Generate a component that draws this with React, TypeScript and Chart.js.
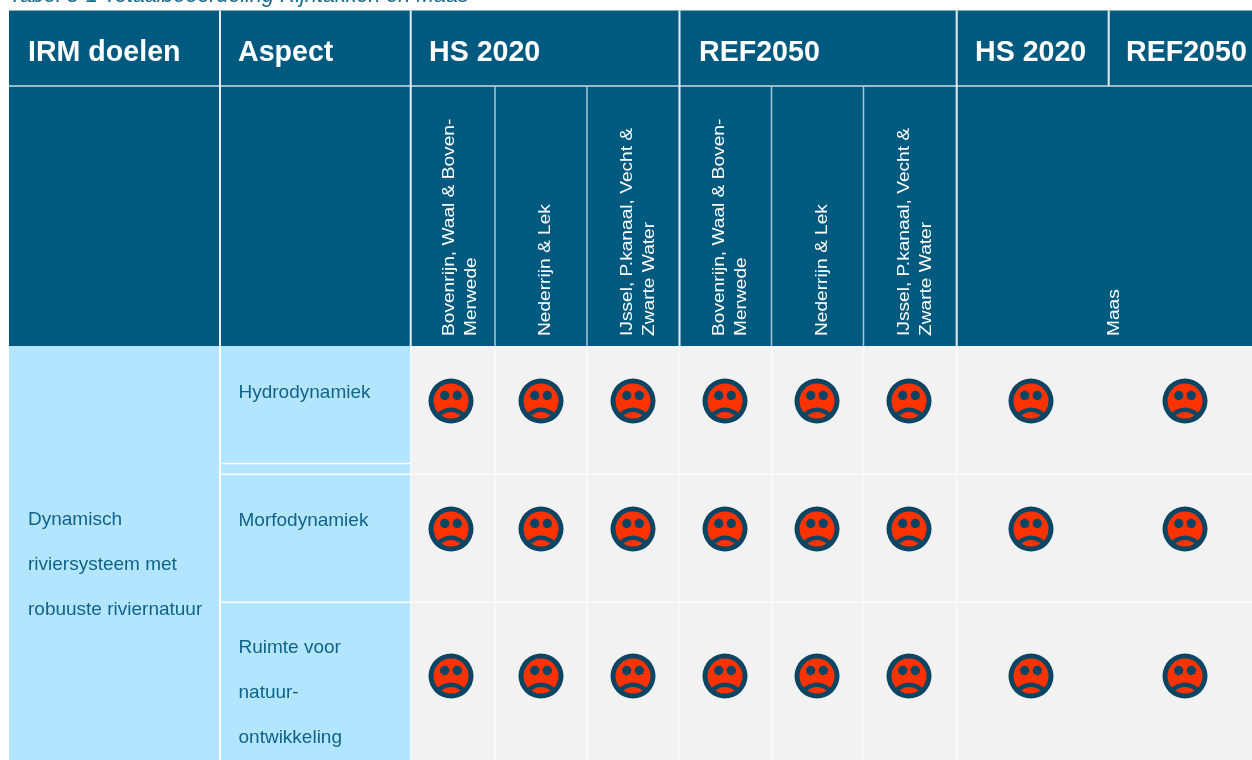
import React, { useEffect, useRef } from "react";
import { Chart, registerables } from "chart.js";

Chart.register(...registerables);

// ---- content ----
const title = "Tabel 5-1 Totaalbeoordeling Rijntakken en Maas";
const headerLabels = ["IRM doelen", "Aspect", "HS 2020", "REF2050", "HS 2020", "REF2050"];
const reachLabels = [
  ["Bovenrijn, Waal & Boven-", "Merwede"],
  ["Nederrijn & Lek"],
  ["IJssel, P.kanaal, Vecht &", "Zwarte Water"],
  ["Bovenrijn, Waal & Boven-", "Merwede"],
  ["Nederrijn & Lek"],
  ["IJssel, P.kanaal, Vecht &", "Zwarte Water"],
  ["Maas"],
];
const goalLines = ["Dynamisch", "riviersysteem met", "robuuste riviernatuur"];
const aspects = [["Hydrodynamiek"], ["Morfodynamiek"], ["Ruimte voor", "natuur-", "ontwikkeling"]];
// one rating per aspect and assessment column: -1 is the sad face
const hydrodynamiek = [-1, -1, -1, -1, -1, -1, -1, -1];
const morfodynamiek = [-1, -1, -1, -1, -1, -1, -1, -1];
const ruimteVoorNatuur = [-1, -1, -1, -1, -1, -1, -1, -1];

// ---- table layout (in scale units, the scales run 1:1 with the page) ----
const colEdges = [9, 220, 410.7, 495, 587, 679.5, 771.5, 863.5, 956.7, 1108.7, 1252];
const rowEdges = [10.5, 86, 346, 474.3, 602.3, 760];
const faceCols = [451, 541, 633, 725, 817, 909, 1031, 1185];
const faceRows = [401, 529, 676];

const NAVY = "#005a80";
const SKY = "#b3e5ff";
const GREY = "#f2f2f2";
const FONT = '"Liberation Sans", Arial, sans-serif';

function makeFace(): HTMLCanvasElement {
  const size = 46;
  const c = document.createElement("canvas");
  c.width = size;
  c.height = size;
  const g = c.getContext("2d")!;
  const m = size / 2;
  g.fillStyle = "#0a4664";
  g.beginPath();
  g.arc(m, m, 22.5, 0, Math.PI * 2);
  g.fill();
  g.fillStyle = "#ff3300";
  g.beginPath();
  g.arc(m, m, 17.5, 0, Math.PI * 2);
  g.fill();
  g.fillStyle = "#0a4664";
  g.beginPath();
  g.arc(m - 6.3, m - 5.5, 4.7, 0, Math.PI * 2);
  g.arc(m + 6.3, m - 5.5, 4.7, 0, Math.PI * 2);
  g.fill();
  g.strokeStyle = "#0a4664";
  g.lineWidth = 4.5;
  g.lineCap = "butt";
  g.beginPath();
  g.moveTo(m - 14, m + 15);
  g.quadraticCurveTo(m, m + 2.5, m + 14, m + 15);
  g.stroke();
  return c;
}

const tablePlugin = {
  id: "table",
  beforeDatasetsDraw(chart: any) {
    const { ctx, scales } = chart;
    const X = (v: number) => scales.x.getPixelForValue(v);
    const Y = (v: number) => scales.y.getPixelForValue(v);
    const rect = (x0: number, x1: number, y0: number, y1: number, fill: string) => {
      ctx.fillStyle = fill;
      ctx.fillRect(X(x0), Y(y0), X(x1) - X(x0), Y(y1) - Y(y0));
    };
    const vline = (x: number, y0: number, y1: number, col: string, w = 1.5) => {
      ctx.fillStyle = col;
      ctx.fillRect(X(x) - w / 2, Y(y0), w, Y(y1) - Y(y0));
    };
    const hline = (x0: number, x1: number, y: number, col: string, w = 1.5) => {
      ctx.fillStyle = col;
      ctx.fillRect(X(x0), Y(y) - w / 2, X(x1) - X(x0), w);
    };
    const [h0, h1, h2, r1, r2, end] = rowEdges;
    const left = colEdges[0];
    const right = colEdges[colEdges.length - 1];
    ctx.save();
    // header block and body blocks
    rect(left, right, h0, h2, NAVY);
    rect(left, colEdges[2], h2, end, SKY);
    rect(colEdges[2], right, h2, end, GREY);

    // header rules
    hline(left, right, h1, "#c9dbe4", 1.5);
    [1, 2, 5, 8].forEach((i) => vline(colEdges[i], h0, h2, "#e6eef2", 2));
    vline(colEdges[9], h0, h1, "#e6eef2", 2);
    [3, 4, 6, 7].forEach((i) => vline(colEdges[i], h1, h2, "#a8c6d5", 1.5));

    // body rules
    vline(colEdges[1], h2, end, "#ffffff", 2);
    vline(colEdges[2], h2, end, "#f4fbff", 1.5);
    hline(colEdges[1], colEdges[2], r1, "#ffffff", 1.5);
    hline(colEdges[1], colEdges[2], r2, "#ffffff", 1.5);
    hline(colEdges[1] + 2, colEdges[2], 463.5, "#ffffff", 1.5);
    hline(colEdges[2], right, r1, "#fafafa", 1.5);
    hline(colEdges[2], right, r2, "#fafafa", 1.5);
    [3, 4, 5, 6, 7, 8].forEach((i) => vline(colEdges[i], h2, end, "#fafafa", 2));

    // title, cut off by the page top
    ctx.textBaseline = "alphabetic";
    ctx.textAlign = "left";
    ctx.fillStyle = "#1b6a8c";
    ctx.font = `italic 21.5px ${FONT}`;
    ctx.fillText(title, X(9), Y(1.5));

    // big headers
    ctx.fillStyle = "#ffffff";
    ctx.font = `bold 28.6px ${FONT}`;
    const headerX = [28, 238, 429, 699, 975, 1126];
    headerLabels.forEach((t, i) => ctx.fillText(t, X(headerX[i]), Y(61)));

    // rotated labels, a little stretched along the line as in the reference
    ctx.font = `18px ${FONT}`;
    const reachX = [453.5, 550, 632, 723.5, 827, 908.5, 1118.5];
    reachLabels.forEach((lines, i) => {
      lines.forEach((line, j) => {
        ctx.save();
        ctx.translate(X(reachX[i] + j * 22), Y(336));
        ctx.rotate(-Math.PI / 2);
        ctx.scale(1.063, 0.93);
        ctx.fillText(line, 0, 0);
        ctx.restore();
      });
    });

    // goal + aspects
    ctx.fillStyle = "#0f6488";
    ctx.font = `19px ${FONT}`;
    goalLines.forEach((t, i) => ctx.fillText(t, X(28), Y(525 + i * 45)));
    const aspectY = [398, 526, 653];
    aspects.forEach((lines, r) =>
      lines.forEach((t, i) => ctx.fillText(t, X(238.5), Y(aspectY[r] + i * 45)))
    );
    ctx.restore();
  },
};

export default function App() {
  const ref = useRef<HTMLCanvasElement>(null);
  useEffect(() => {
    document.body.style.margin = "0";
    const face = makeFace();
    const ratings = [hydrodynamiek, morfodynamiek, ruimteVoorNatuur];
    const chart = new Chart(ref.current!, {
      type: "scatter",
      data: {
        datasets: ratings.map((values, r) => ({
          label: aspects[r].join(" "),
          data: values.map((_, c) => ({ x: faceCols[c], y: faceRows[r] })),
          pointStyle: face as any,
          pointRadius: 23,
        })),
      },
      options: {
        animation: false,
        responsive: false,
        maintainAspectRatio: false,
        layout: { padding: 0, autoPadding: false },
        plugins: { legend: { display: false }, tooltip: { enabled: false }, title: { display: false } },
        scales: {
          x: { type: "linear", min: 0, max: 1252, display: false },
          y: { type: "linear", min: 0, max: 760, reverse: true, display: false },
        },
      },
      plugins: [tablePlugin],
    });
    return () => chart.destroy();
  }, []);
  return <canvas ref={ref} width={1252} height={760} style={{ display: "block" }} />;
}
